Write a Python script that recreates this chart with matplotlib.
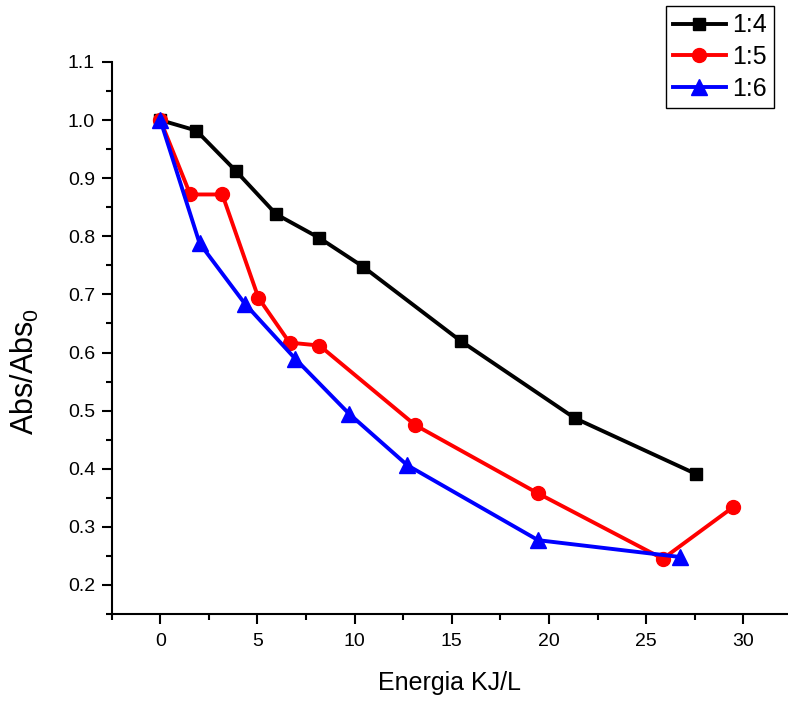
import matplotlib
matplotlib.use('Agg')
import matplotlib.pyplot as plt
from matplotlib.ticker import MultipleLocator

plt.rcParams['font.family'] = ['Liberation Sans', 'DejaVu Sans']
plt.rcParams['mathtext.fontset'] = 'custom'
plt.rcParams['mathtext.rm'] = 'Liberation Sans'

# datos
energia_14 = [0, 1.85, 3.9, 5.96, 8.19, 10.42, 15.45, 21.33, 27.56]
abs_14 = [1.0, 0.982, 0.912, 0.838, 0.797, 0.748, 0.620, 0.487, 0.391]
energia_15 = [0, 1.54, 3.19, 5.05, 6.65, 8.19, 13.12, 19.41, 25.86, 29.48]
abs_15 = [1.0, 0.872, 0.872, 0.694, 0.617, 0.612, 0.475, 0.358, 0.245, 0.334]
energia_16 = [0, 2.02, 4.35, 6.95, 9.7, 12.71, 19.44, 26.76]
abs_16 = [1.0, 0.788, 0.684, 0.589, 0.495, 0.406, 0.277, 0.248]

fig = plt.figure(figsize=(7.88, 7.02), dpi=100)
ax = fig.add_axes([0.1418, 0.1254, 1.0 - 0.1418, 0.9117 - 0.1254])

ax.plot(energia_14, abs_14, color='black', marker='s', ms=9, lw=2.8, label='1:4')
ax.plot(energia_15, abs_15, color='red', marker='o', ms=10, lw=2.8, label='1:5')
ax.plot(energia_16, abs_16, color='blue', marker='^', ms=11, lw=2.8, label='1:6')

ax.set_xlim(-2.5, 32.3)
ax.set_ylim(0.15, 1.1)
ax.xaxis.set_minor_locator(MultipleLocator(2.5))
ax.yaxis.set_minor_locator(MultipleLocator(0.05))
ax.set_xticks([0, 5, 10, 15, 20, 25, 30])
ax.set_yticks([0.2, 0.3, 0.4, 0.5, 0.6, 0.7, 0.8, 0.9, 1.0, 1.1])

ax.spines['top'].set_visible(False)
ax.spines['right'].set_visible(False)
ax.spines['left'].set_linewidth(1.5)
ax.spines['bottom'].set_linewidth(1.5)
ax.tick_params(which='major', direction='out', length=7, width=1.5, labelsize=14, pad=5)
ax.tick_params(which='minor', direction='out', length=4, width=1.5)
ax.tick_params(axis='x', which='major', pad=7)

ax.set_xlabel('Energia KJ/L', fontsize=18, labelpad=15)
ax.set_ylabel(r'Abs/Abs$_\mathregular{0}$', fontsize=22)
ax.yaxis.set_label_coords(-0.104, 0.44)

leg = ax.legend(loc='upper right', bbox_to_anchor=(774 / 788, 1 - 6 / 702),
                bbox_transform=fig.transFigure, borderaxespad=0, fontsize=18,
                fancybox=False, framealpha=1, edgecolor='black',
                handlelength=2.1, handletextpad=0.25, labelspacing=0.3, borderpad=0.3)
leg.get_frame().set_linewidth(1.0)

fig.savefig('out.png', dpi=100)
